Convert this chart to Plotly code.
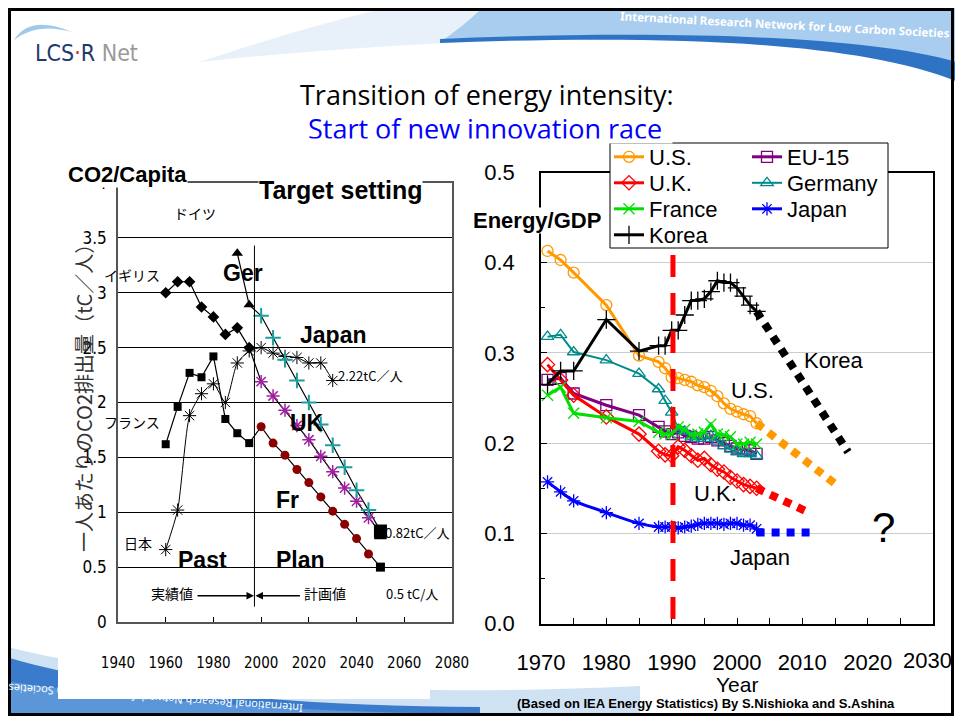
import plotly.graph_objects as go

# the page body keeps an 8px margin on every side, so the figure is 16px smaller than
# the window and every reference pixel position is shifted by 8px
W, H = 963, 724
OFF = 8
FW, FH = W - OFF, H - 2 * OFF

# ---- left chart: CO2 per capita (tC/person) ----
past_years = [1960, 1965, 1970, 1975, 1980, 1985, 1990, 1995]
uk_past = [3.00, 3.10, 3.10, 2.87, 2.78, 2.62, 2.68, 2.50]
fr_past = [1.62, 1.96, 2.27, 2.23, 2.42, 1.85, 1.72, 1.63]
ger_past_years = [1990, 1995]
ger_past = [3.36, 2.89]
plan_years = [2000, 2005, 2010, 2015, 2020, 2025, 2030, 2035, 2040, 2045, 2050]
uk_plan = [2.19, 2.06, 1.93, 1.79, 1.66, 1.51, 1.37, 1.22, 1.10, 0.95, 0.81]
ger_plan = [2.79, 2.59, 2.39, 2.20, 2.00, 1.80, 1.61, 1.41, 1.20, 1.02, 0.83]
fr_plan = [1.78, 1.63, 1.52, 1.39, 1.27, 1.14, 1.01, 0.89, 0.76, 0.62, 0.50]
jp_years = [1960, 1965, 1970, 1975, 1980, 1985, 1990, 1995, 2000, 2005, 2010, 2015, 2020, 2025, 2030]
jp_co2 = [0.66, 1.02, 1.88, 2.08, 2.17, 2.00, 2.36, 2.47, 2.50, 2.45, 2.42, 2.41, 2.36, 2.36, 2.20]

# ---- right chart: energy / GDP ----
years = [1971, 1973, 1975, 1980, 1985, 1988, 1989, 1990, 1991, 1992, 1993, 1994,
         1995, 1996, 1997, 1998, 1999, 2000, 2001, 2002, 2003]
us = [0.413, 0.403, 0.389, 0.353, 0.297, 0.290, 0.283, 0.273, 0.272, 0.270, 0.268, 0.264,
      0.262, 0.258, 0.252, 0.244, 0.238, 0.235, 0.232, 0.230, 0.222]
eu15 = [0.270, 0.272, 0.255, 0.242, 0.231, 0.218, 0.213, 0.210, 0.212, 0.208, 0.207, 0.205,
        0.205, 0.207, 0.203, 0.200, 0.197, 0.194, 0.193, 0.192, 0.188]
uk = [0.287, 0.270, 0.253, 0.229, 0.210, 0.191, 0.187, 0.186, 0.196, 0.192, 0.186, 0.181,
      0.183, 0.176, 0.171, 0.168, 0.162, 0.158, 0.154, 0.152, 0.150]
germany = [0.318, 0.320, 0.301, 0.292, 0.277, 0.260, 0.247, 0.234, 0.215, 0.213, 0.207, 0.205,
           0.205, 0.208, 0.202, 0.197, 0.193, 0.190, 0.188, 0.188, 0.186]
france = [0.253, 0.262, 0.233, 0.228, 0.224, 0.212, 0.210, 0.210, 0.218, 0.215, 0.209, 0.210,
          0.212, 0.221, 0.210, 0.209, 0.207, 0.199, 0.199, 0.201, 0.199]
japan = [0.157, 0.146, 0.136, 0.123, 0.111, 0.107, 0.107, 0.107, 0.106, 0.107, 0.108, 0.110,
         0.111, 0.111, 0.111, 0.110, 0.111, 0.111, 0.109, 0.109, 0.105]
korea = [0.265, 0.280, 0.280, 0.337, 0.302, 0.308, 0.308, 0.325, 0.325, 0.342, 0.358, 0.358,
         0.360, 0.368, 0.380, 0.378, 0.378, 0.372, 0.363, 0.353, 0.346]

us_proj_years, us_proj = [2003, 2015], [0.222, 0.155]
uk_proj_years, uk_proj = [2003, 2011], [0.150, 0.123]
jp_proj_years, jp_proj = [2003, 2012], [0.101, 0.101]
kr_proj_years, kr_proj = [2003, 2017], [0.346, 0.190]

right_ticks = [1970, 1980, 1990, 2000, 2010, 2020, 2030]

ARIAL = "Liberation Sans, Arial, sans-serif"
NARROW = "Liberation Sans Narrow, DejaVu Sans Condensed, sans-serif"
JP = "Noto Sans CJK JP"


def fx(p):
    return (p - OFF) / FW


def fy(p):
    return 1 - (p - OFF) / FH


fig = go.Figure()

# left chart lines
line_k = dict(color="black", width=1.2)
fig.add_trace(go.Scatter(x=past_years + plan_years, y=uk_past + uk_plan, mode="lines",
                         line=line_k, xaxis="x", yaxis="y", showlegend=False))
fig.add_trace(go.Scatter(x=ger_past_years + plan_years, y=ger_past + ger_plan, mode="lines",
                         line=line_k, xaxis="x", yaxis="y", showlegend=False))
fig.add_trace(go.Scatter(x=past_years + plan_years, y=fr_past + fr_plan, mode="lines",
                         line=line_k, xaxis="x", yaxis="y", showlegend=False))
fig.add_trace(go.Scatter(x=jp_years, y=jp_co2, mode="lines+markers",
                         line=dict(color="black", width=1, shape="spline", smoothing=0.6),
                         marker=dict(symbol="asterisk-open", size=11, color="black",
                                     line=dict(width=1, color="black")),
                         xaxis="x", yaxis="y", showlegend=False))
# past markers
fig.add_trace(go.Scatter(x=past_years, y=uk_past, mode="markers",
                         marker=dict(symbol="diamond", size=9, color="black"),
                         xaxis="x", yaxis="y", showlegend=False))
fig.add_trace(go.Scatter(x=past_years, y=fr_past, mode="markers",
                         marker=dict(symbol="square", size=8, color="black"),
                         xaxis="x", yaxis="y", showlegend=False))
fig.add_trace(go.Scatter(x=ger_past_years, y=ger_past, mode="markers",
                         marker=dict(symbol="triangle-up", size=10, color="black"),
                         xaxis="x", yaxis="y", showlegend=False))
# plan markers (last point = black square)
n = len(plan_years)
fig.add_trace(go.Scatter(x=plan_years, y=uk_plan, mode="markers",
                         marker=dict(symbol=["asterisk-open"] * (n - 1) + ["square"], size=11,
                                     color=["#a020a0"] * (n - 1) + ["black"],
                                     line=dict(width=1.5, color=["#a020a0"] * (n - 1) + ["black"])),
                         xaxis="x", yaxis="y", showlegend=False))
fig.add_trace(go.Scatter(x=plan_years, y=ger_plan, mode="markers",
                         marker=dict(symbol=["cross-thin-open"] * (n - 1) + ["square"], size=11,
                                     color=["#1a9e9e"] * (n - 1) + ["black"],
                                     line=dict(width=2, color=["#1a9e9e"] * (n - 1) + ["black"])),
                         xaxis="x", yaxis="y", showlegend=False))
fig.add_trace(go.Scatter(x=plan_years, y=fr_plan, mode="markers",
                         marker=dict(symbol=["circle"] * (n - 1) + ["square"], size=9,
                                     color=["#8b0000"] * (n - 1) + ["black"]),
                         xaxis="x", yaxis="y", showlegend=False))

# right chart series; each legend entry gets its own legend box so rows can be packed tightly
series = [
    ("U.S.", us, "#ff9900", "circle-open", 11, 3),
    ("EU-15", eu15, "#800080", "square-open", 11, 3),
    ("U.K.", uk, "#ff0000", "diamond-open", 11, 3),
    ("Germany", germany, "#008b8b", "triangle-up-open", 11, 2),
    ("France", france, "#00e000", "x-thin", 11, 3),
    ("Japan", japan, "#0000ff", "asterisk", 11, 3),
    ("Korea", korea, "black", "cross-thin", 13, 3),
]
legend_ids = ["legend", "legend2", "legend3", "legend4", "legend5", "legend6", "legend7"]
for (name, vals, col, sym, size, lw), leg in zip(series, legend_ids):
    fig.add_trace(go.Scatter(
        x=years, y=vals, name=name, mode="lines+markers",
        line=dict(color=col, width=lw, shape="spline" if name == "Japan" else "linear", smoothing=0.5),
        marker=dict(symbol=sym, size=size, color=col, line=dict(width=1.3, color=col)),
        xaxis="x2", yaxis="y2", legend=leg))

for px_, py_, col in [(us_proj_years, us_proj, "#ff9900"), (uk_proj_years, uk_proj, "#ff0000"),
                      (jp_proj_years, jp_proj, "#0000ff"), (kr_proj_years, kr_proj, "black")]:
    fig.add_trace(go.Scatter(x=px_, y=py_, mode="lines", showlegend=False,
                             line=dict(color=col, width=8, dash="8px,7px"),
                             xaxis="x2", yaxis="y2"))


def curve(spec):
    # spec: list of (command, [points]) ; every segment gets its own command letter
    out = []
    for cmd, pts in spec:
        coords = " ".join(f"{fx(a):.4f},{fy(b):.4f}" for a, b in pts)
        out.append(f"{cmd}{coords}")
    return " ".join(out) + " Z"


def deco(spec, color):
    return dict(type="path", xref="paper", yref="paper", layer="below", line_width=0,
                fillcolor=color, path=curve(spec))


shapes = [
    # top swoosh
    deco([("M", [(200, 62)]), ("C", [(400, 40), (700, 28), (963, 40)]), ("L", [(963, 0)]),
          ("L", [(420, 0)]), ("C", [(330, 20), (260, 42), (200, 62)])], "#e8f1fa"),
    deco([("M", [(440, 42)]), ("C", [(650, 34), (860, 38), (963, 80)]), ("L", [(963, 0)]),
          ("L", [(490, 0)]), ("C", [(475, 16), (458, 30), (440, 42)])], "#a9cdee"),
    deco([("M", [(440, 43)]), ("C", [(650, 35), (860, 39), (963, 84)]), ("L", [(963, 64)]),
          ("C", [(870, 34), (650, 30), (440, 39)])], "#2f74c4"),
    # logo arc
    deco([("M", [(14, 40)]), ("Q", [(30, 14), (72, 32)]), ("Q", [(36, 22), (14, 40)])], "#9fc8ea"),
    # bottom swoosh
    deco([("M", [(0, 645)]), ("C", [(150, 685), (380, 698), (640, 686)]), ("L", [(640, 724)]),
          ("L", [(0, 724)])], "#cfe2f4"),
    deco([("M", [(0, 655)]), ("C", [(120, 692), (300, 706), (480, 707)]), ("L", [(480, 724)]),
          ("L", [(0, 724)])], "#3a7ccb"),
    deco([("M", [(0, 680)]), ("C", [(120, 700), (300, 712), (480, 714)]), ("L", [(480, 724)]),
          ("L", [(0, 724)])], "#5a96d8"),
    dict(type="rect", xref="paper", yref="paper", layer="below", line_width=0, fillcolor="white",
         x0=fx(58), x1=fx(430), y0=fy(600), y1=fy(699)),
    # slide frame
    dict(type="rect", xref="paper", yref="paper", layer="above", line=dict(color="black", width=3),
         x0=fx(9.5), x1=fx(952.5), y0=fy(9.5), y1=fy(714.5)),
    # legend box
    dict(type="rect", xref="paper", yref="paper", layer="above", line=dict(color="black", width=1),
         fillcolor="white", x0=fx(610), x1=fx(888), y0=fy(143), y1=fy(248)),
    # left: past/plan divider
    dict(type="line", xref="x", yref="y", x0=1997.2, x1=1997.2, y0=0.14, y1=3.43,
         line=dict(color="black", width=1)),
    # right: 1990 red dashed line
    dict(type="line", xref="x2", yref="y2", x0=1990.2, x1=1990.2, y0=0.005, y1=0.41,
         line=dict(color="#ff0000", width=5, dash="22px,16px")),
]


def ann(text, x, y, size=14, color="black", family=ARIAL, bold=False, **kw):
    if bold:
        text = f"<b>{text}</b>"
    d = dict(text=text, xref="paper", yref="paper", x=fx(x), y=fy(y), showarrow=False,
             xanchor="center", yanchor="middle", font=dict(size=size, color=color, family=family))
    d.update(kw)
    return d


annotations = [
    ann('<span style="color:#1f3a6e">LCS</span><span style="color:#e02020">·</span>'
        '<span style="color:#1f3a6e">R</span> <span style="color:#9a9a9a">Net</span>',
        86, 53, size=23, family=NARROW),
    ann("International Research Network for Low Carbon Societies", 785, 25, size=11.5, color="white",
        family="Noto Sans", bold=True, textangle=3),
    ann("International Research Network for Low Carbon Societies", 156, 699, size=11, color="white",
        family="Noto Sans", textangle=-176),
    ann("Transition of energy intensity:", 487, 94, size=27, family="Open Sans"),
    ann("Start of new innovation race", 485, 128, size=27, color="#0000ff", family="Open Sans"),
    # the slide crops the bottom of the subtitle
    ann(" ", 482, 141, size=4, width=380, height=4, bgcolor="white", borderpad=0),
    # left chart
    ann("CO2/Capita", 127, 175, size=22, bold=True, bgcolor="white", borderpad=0),
    ann("Target setting", 340, 190, size=25, bold=True, bgcolor="white", borderpad=0),
    ann("一人あたりのCO2排出量（tC／人）", 84, 393, size=20, color="#333333", family=JP, textangle=-90),
    ann("ドイツ", 195, 213, size=14, family=JP),
    ann("イギリス", 132, 275, size=14, family=JP),
    ann("フランス", 132, 422, size=14, family=JP),
    ann("日本", 138, 543, size=14, family=JP),
    ann("2.22tC／人", 370, 375, size=13, family=JP),
    ann("0.82tC／人", 417, 532, size=13, family=JP),
    ann("0.5 tC/人", 412, 593, size=13, family=JP),
    ann("実績値", 172, 593, size=14, family=JP),
    ann("計画値", 325, 593, size=14, family=JP),
    ann("Ger", 243, 273, size=23, bold=True),
    ann("Japan", 333, 335, size=23, bold=True),
    ann("UK", 307, 423, size=23, bold=True),
    ann("Fr", 287, 500, size=23, bold=True),
    ann("Past", 202, 560, size=23, bold=True),
    ann("Plan", 300, 560, size=23, bold=True),
    dict(xref="x", yref="y", x=1997.0, y=0.24, ax=-58, ay=0, text="", showarrow=True,
         arrowhead=2, arrowsize=1, arrowwidth=1.5, arrowcolor="black"),
    dict(xref="x", yref="y", x=1997.6, y=0.24, ax=46, ay=0, text="", showarrow=True,
         arrowhead=2, arrowsize=1, arrowwidth=1.5, arrowcolor="black"),
    # right chart
    ann("Energy/GDP", 537, 221, size=22, bold=True, bgcolor="white", borderpad=0),
    ann("Korea", 833, 361, size=22),
    ann("U.S.", 752, 390, size=22),
    ann("U.K.", 715, 493, size=22),
    ann("Japan", 760, 557, size=22),
    ann("?", 883, 527, size=42),
    # last x label sits at the window edge; pulled in slightly so it is not clipped
    ann(str(right_ticks[-1]), 927, 660, size=22),
    ann("Year", 737, 684, size=21),
    ann("(Based on IEA Energy Statistics) By S.Nishioka and S.Ashina", 706, 703, size=13, bold=True),
]

legend_style = dict(xanchor="left", yanchor="middle", bgcolor="rgba(0,0,0,0)", borderwidth=0,
                    font=dict(family=ARIAL, size=22, color="black"), itemwidth=30,
                    orientation="v", tracegroupgap=0)
# (column x, row y) of each legend entry, in reference pixels
legend_pos = [(609, 157), (747, 157), (609, 183), (747, 183), (609, 209), (747, 209), (609, 235)]
legends = {leg: dict(x=fx(lx), y=fy(ly), **legend_style) for leg, (lx, ly) in zip(legend_ids, legend_pos)}

fig.update_layout(
    width=FW, height=FH, margin=dict(l=0, r=0, t=0, b=0, autoexpand=False),
    paper_bgcolor="white", plot_bgcolor="white",
    font=dict(family=ARIAL, color="black"),
    xaxis=dict(domain=[fx(118), fx(452)], range=[1940, 2080], tickvals=list(range(1940, 2081, 20)),
               ticks="inside", ticklen=5, tickcolor="black", showgrid=False, zeroline=False,
               showline=True, mirror=True, linecolor="#555555", linewidth=1.5, automargin=False,
               tickfont=dict(family=NARROW, size=15), ticklabelstandoff=26, anchor="y"),
    yaxis=dict(domain=[fy(622), fy(183)], range=[0, 4], tickvals=[0, 0.5, 1, 1.5, 2, 2.5, 3, 3.5, 4],
               ticktext=["0", "0.5", "1", "1.5", "2", "2.5", "3", "3.5", "4"],
               showgrid=True, gridcolor="black", gridwidth=1, zeroline=False, ticks="",
               showline=True, mirror=True, linecolor="#555555", linewidth=1.5, automargin=False,
               tickfont=dict(family=NARROW, size=17), ticklabelstandoff=6, anchor="x"),
    xaxis2=dict(domain=[fx(541), fx(933)], range=[1970, 2030], tickvals=right_ticks,
                ticktext=[str(t) for t in right_ticks[:-1]] + [""],
                ticks="inside", ticklen=6, tickcolor="black",
                minor=dict(dtick=5, ticks="inside", ticklen=6, tickcolor="black", showgrid=False),
                showgrid=False, zeroline=False, showline=True, mirror=True, linecolor="black",
                linewidth=1.5, automargin=False,
                tickfont=dict(family=ARIAL, size=22), ticklabelstandoff=18, anchor="y2"),
    yaxis2=dict(domain=[fy(623.5), fy(172.5)], range=[0, 0.5], dtick=0.1, tickformat=".1f",
                ticks="inside", ticklen=6, tickcolor="black",
                minor=dict(dtick=0.05, ticks="inside", ticklen=4, tickcolor="black", showgrid=False),
                showgrid=True, gridcolor="#cccccc", gridwidth=1, zeroline=False,
                showline=True, mirror=True, linecolor="black", linewidth=1.5, automargin=False,
                tickfont=dict(family=ARIAL, size=22), ticklabelstandoff=20, anchor="x2"),
    shapes=shapes,
    annotations=annotations,
    **legends,
)

fig.write_html("out.html")
